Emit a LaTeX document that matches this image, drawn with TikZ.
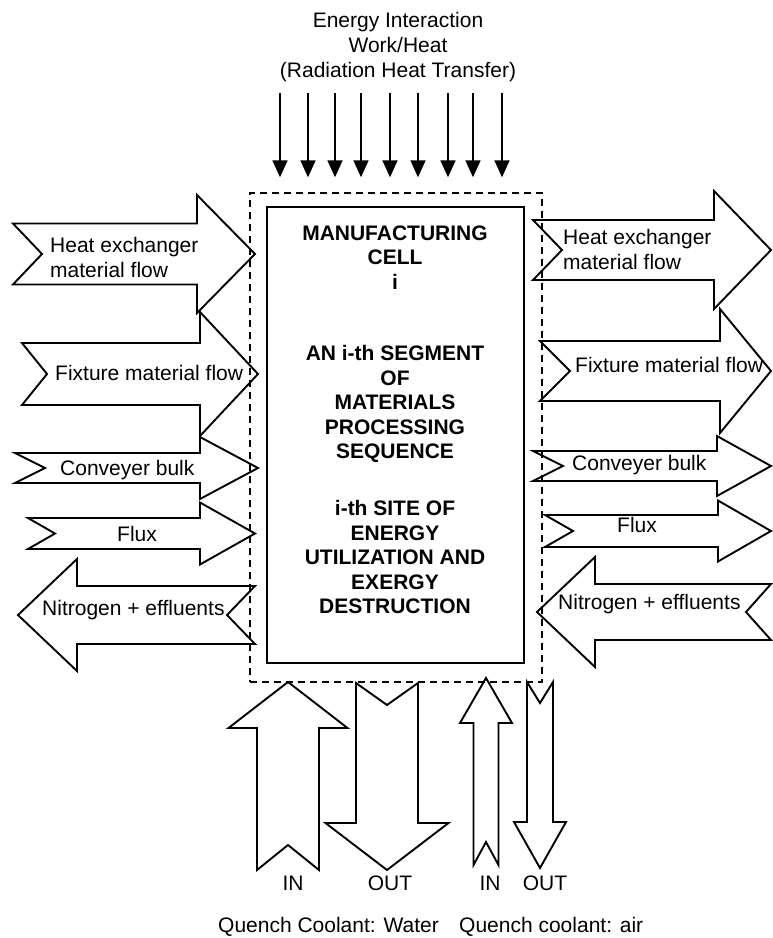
\documentclass[tikz,border=0pt]{standalone}
\usepackage{fontspec}
\setmainfont{Liberation Sans}
\usepackage{tikz}
\usetikzlibrary{arrows.meta}
\usetikzlibrary{positioning}

% block arrow along x: tail, notch, base, tip, mid y, shaft half, head half
\newcommand{\hblock}[7]{%
	\draw[block] ({#1},{#5-#6}) -- ({#3},{#5-#6}) -- ({#3},{#5-#7}) -- ({#4},{#5})
	-- ({#3},{#5+#7}) -- ({#3},{#5+#6}) -- ({#1},{#5+#6}) -- ({#2},{#5}) -- cycle;}
% block arrow along y: tail, notch, base, tip, mid x, shaft half, head half
\newcommand{\vblock}[7]{%
	\draw[block] ({#5-#6},{#1}) -- ({#5-#6},{#3}) -- ({#5-#7},{#3}) -- ({#5},{#4})
	-- ({#5+#7},{#3}) -- ({#5+#6},{#3}) -- ({#5+#6},{#1}) -- ({#5},{#2}) -- cycle;}

\begin{document}
\begin{tikzpicture}[x=1pt,y=-1pt,
	block/.style={line width=1.9pt, line join=miter},
	lbl/.style={font=\fontsize{21}{25}\selectfont, inner sep=0pt, align=left},
	celltxt/.style={font=\fontsize{21}{24.5}\selectfont\bfseries, inner sep=0pt, align=center},
	heat/.style={line width=1.7pt, -{Triangle[width=15pt,length=17pt]}}]
			
			\useasboundingbox (0,0) rectangle (772,938);
			
			% cell and its control volume
			\node[draw, dashed, dash pattern=on 7pt off 5pt, line width=1.4pt, minimum width=292pt, minimum height=489pt, inner sep=0pt] (frame) at (396,437.5) {};
			\node[draw, line width=1.8pt, minimum width=257pt, minimum height=456pt, inner sep=0pt] (cell) at (395.5,435) {};
			
			\node[celltxt, anchor=north] (title) at (395,225.5) {MANUFACTURING\\CELL\\i};
			\node[celltxt, anchor=north] (segment) at (395,345.5) {AN i-th SEGMENT\\OF\\MATERIALS\\PROCESSING\\SEQUENCE};
			\node[celltxt, anchor=north] (site) at (395,500.5) {i-th SITE OF\\ENERGY\\UTILIZATION AND\\EXERGY\\DESTRUCTION};
			
			% energy interaction
			\node[lbl, align=center, anchor=north] (energy) at (398,12.5) {Energy Interaction\\Work/Heat\\(Radiation Heat Transfer)};
			\foreach \x in {280,308,335,361,390,418,448,473,502}
			\draw[heat] (\x,93) -- (\x,0 |- frame.north) [shorten >=15pt];
			
			% material flows, left side
			\hblock{13}{42}{197}{255}{254}{30.5}{59}
			\hblock{22}{47}{200}{258}{374}{31}{62}
			\hblock{15}{45}{200}{258}{468}{15}{31}
			\hblock{28}{55}{200}{255}{533.5}{15.5}{31}
			\hblock{255}{227}{77}{18}{615}{29}{56}
			
			\node[lbl, anchor=north west] (hxin) at (50,237.5) {Heat exchanger\\material flow};
			\node[lbl, anchor=north west] (fixin) at (55,365.5) {Fixture material flow};
			\node[lbl, anchor=north west] (convin) at (60,460.5) {Conveyer bulk};
			\node[lbl, anchor=north west] (fluxin) at (117,526.5) {Flux};
			\node[lbl, anchor=north west] (nitin) at (42,600.5) {Nitrogen + effluents};
			
			% material flows, right side
			\hblock{533}{562}{714}{771}{250}{30}{59}
			\hblock{540}{570}{720}{771}{371}{30}{62}
			\hblock{533}{563}{717}{771}{466}{15}{30}
			\hblock{545}{573}{718}{771}{531}{16}{30.5}
			\hblock{771}{746}{595}{537}{612}{28}{55}
			
			\node[lbl, anchor=north west] (hxout) at (563,229.5) {Heat exchanger\\material flow};
			\node[lbl, anchor=north west] (fixout) at (575,357.5) {Fixture material flow};
			\node[lbl, anchor=north west] (convout) at (572,455.5) {Conveyer bulk};
			\node[lbl, anchor=north west] (fluxout) at (617,517.5) {Flux};
			\node[lbl, anchor=north west] (nitout) at (558,594.5) {Nitrogen + effluents};
			
			% quench coolant
			\vblock{870}{845}{728}{682}{288}{31}{59.5}
			\vblock{683}{705}{823}{870}{387}{31}{61.5}
			\vblock{865}{842}{723}{678}{486}{12.5}{26}
			\vblock{682}{703}{822}{868}{540}{13}{26}
			
			\node[lbl, anchor=north] (win) at (293,875.5) {IN};
			\node[lbl, anchor=north] (wout) at (390,875.5) {OUT};
			\node[lbl, anchor=north] (ain) at (490,875.5) {IN};
			\node[lbl, anchor=north] (aout) at (545,875.5) {OUT};
			
			\node[lbl, anchor=north west] (water) at (218,917.5) {Quench Coolant: Water};
			\node[lbl, anchor=north west] (air) [right=20pt of water.north east, anchor=north west] {Quench coolant: air};
			
		\end{tikzpicture}
\end{document}
